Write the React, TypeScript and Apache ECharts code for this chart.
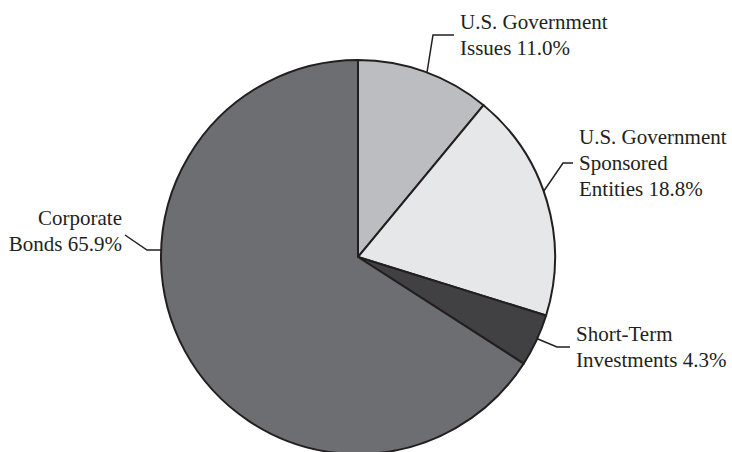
import React, { useEffect, useRef } from "react";
import * as echarts from "echarts";

// Data
const categories = [
  "U.S. Government\nIssues",
  "U.S. Government\nSponsored\nEntities",
  "Short-Term\nInvestments",
  "Corporate\nBonds",
];
const values = [11.0, 18.8, 4.3, 65.9];
const colors = ["#bcbdc0", "#e6e7e8", "#414042", "#6d6e71"];

// Layout (label anchor, alignment, leader line points)
const CX = 358;
const CY = 257;
const R = 197;
const labelLayouts = [
  { x: 460, y: 35, align: "left", edgeAngle: 20.5, elbow: [433, 35], end: [454, 35] },
  { x: 579, y: 163, align: "left", edgeAngle: 70.5, elbow: [563, 163], end: [573, 163] },
  { x: 576, y: 347, align: "left", edgeAngle: 114.5, elbow: [557, 347], end: [570, 347] },
  { x: 122, y: 231, align: "right", edgeAngle: 272, elbow: [147, 250], end: [125, 235] },
];

function edgePoint(deg: number): number[] {
  const a = (deg * Math.PI) / 180;
  return [CX + R * Math.sin(a), CY - R * Math.cos(a)];
}

export default function App() {
  const ref = useRef<HTMLDivElement>(null);
  useEffect(() => {
    if (!ref.current) return;
    const chart = echarts.init(ref.current, undefined, { renderer: "svg" });
    chart.setOption({
      animation: false,
      backgroundColor: "#ffffff",
      series: [
        {
          type: "pie",
          center: [CX, CY],
          radius: R,
          startAngle: 90,
          clockwise: true,
          avoidLabelOverlap: false,
          silent: true,
          emphasis: { disabled: true },
          itemStyle: { borderColor: "#231f20", borderWidth: 2 },
          label: {
            show: true,
            position: "outside",
            fontFamily: "Liberation Serif",
            fontSize: 21,
            lineHeight: 26,
            color: "#231f20",
            formatter: (p: any) => `${p.name} ${Number(p.value).toFixed(1)}%`,
          },
          labelLine: {
            show: true,
            lineStyle: { color: "#231f20", width: 1.5 },
          },
          labelLayout: (params: any) => {
            const l = labelLayouts[params.dataIndex];
            const start = edgePoint(l.edgeAngle);
            return {
              x: l.x,
              y: l.y,
              align: l.align,
              verticalAlign: "middle",
              labelLinePoints: [start, l.elbow, l.end],
            };
          },
          data: categories.map((name, i) => ({
            name,
            value: values[i],
            itemStyle: { color: colors[i] },
            label: { align: labelLayouts[i].align },
          })),
        },
      ],
    });
    return () => chart.dispose();
  }, []);
  return (
    <div
      ref={ref}
      style={{ position: "absolute", left: 0, top: 0, width: 732, height: 452 }}
    />
  );
}
